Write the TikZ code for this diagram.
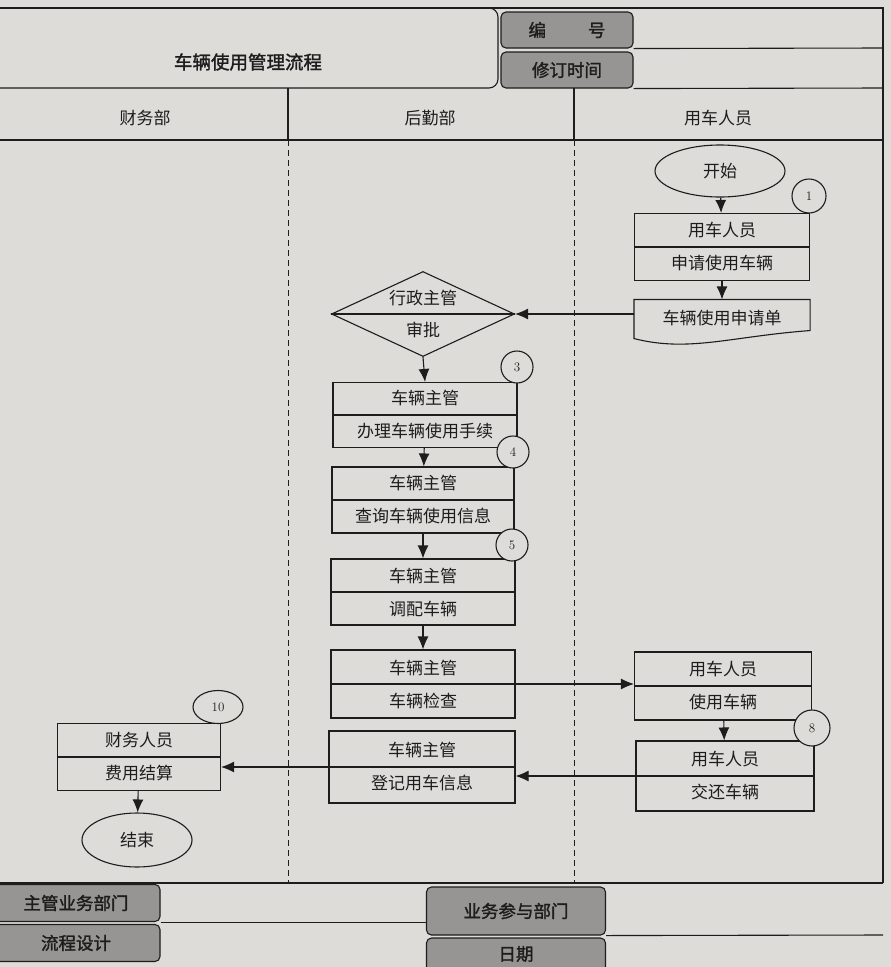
\documentclass[tikz,border=0pt]{standalone}
\usepackage{fontspec}
\newfontfamily\cjk{Noto Sans CJK SC}
\newfontfamily\cjkb[FakeBold=1.6]{Noto Sans CJK SC}
\usetikzlibrary{shapes.geometric,arrows.meta}
\definecolor{paper}{RGB}{222,220,217}
\definecolor{tabgray}{RGB}{150,149,147}
\definecolor{ink}{RGB}{30,28,28}
\tikzset{
  box/.style={draw=ink,line width=1.1pt,minimum width=#1,minimum height=67pt,
    inner sep=0pt,align=center,font=\cjk\fontsize{17}{33}\selectfont},
  tab/.style={draw=ink,line width=1.1pt,fill=tabgray,rounded corners=5pt,
    minimum width=#1,inner sep=0pt,font=\cjkb\fontsize{17.5}{20}\selectfont},
  num/.style={draw=ink,fill=paper,line width=1.1pt,inner sep=0pt,
    font=\fontsize{13}{15}\selectfont},
  flow/.style={draw=ink,line width=1.1pt,-{Latex[length=13pt,width=11pt]}},
  lane/.style={draw=ink,line width=1pt,dash pattern=on 6pt off 4pt},
  txt/.style={font=\cjk\fontsize{17}{20}\selectfont}
}
\begin{document}
\begin{tikzpicture}[x=1pt,y=-1pt,line width=1.1pt,draw=ink,text=ink]
\fill[paper] (0,0) rectangle (891,967);
\useasboundingbox (0,0) rectangle (891,967);
\clip (0,0) rectangle (891,967);
% frame and heading
\draw (0,8) -- (883,8) -- (883,883);
\draw[rounded corners=9pt] (-10,88) -- (498,88) -- (498,8) -- (-10,8);
\node[font=\cjkb\fontsize{18.5}{22}\selectfont] (title) at (248,62) {车辆使用管理流程};
\node[tab=132pt,minimum height=36pt] (code) at (567,30) {编\hspace{42pt}号};
\node[tab=132pt,minimum height=36pt] (rev) at (567,70) {修订时间};
\draw (code.south east) -- (883,48);
\draw (rev.south east) -- (883,88);
% lanes
\node[txt] (fin) at (145,118) {财务部};
\node[txt] (log) at (430,118) {后勤部};
\node[txt] (usr) at (718,118) {用车人员};
\draw (288,88) -- (288,140);
\draw (574,88) -- (574,140);
\draw (0,140) -- (883,140);
\foreach \x in {288,574}
  \draw[lane] (\x,140) -- (\x,883);
% user lane
\node[draw=ink,ellipse,minimum width=130pt,minimum height=52pt,txt] (start) at (720,171) {开始};
\node[box=175pt] (apply) at (722,247) {用车人员\\申请使用车辆};
\node[txt,minimum width=175pt,minimum height=36pt] (form) at (722,318) {车辆使用申请单};
\draw (form.south west) -- (form.north west) -- (form.north east)
  -- ([yshift=6pt]form.south east) .. controls +(-80,6) and +(55,14) .. ([yshift=-2pt]form.south west) -- cycle;
\node[box=177pt,minimum height=68pt] (use) at (723,686) {用车人员\\使用车辆};
\node[box=178pt,minimum height=70pt] (return) at (725,776) {用车人员\\交还车辆};
% logistics lane
\node[draw=ink,diamond,aspect=2.15,minimum width=183pt,minimum height=85pt,inner sep=0pt,
  align=center,font=\cjk\fontsize{17}{32}\selectfont] (check) at (423,314) {行政主管\\审批};
\node[box=184pt,minimum height=65pt] (handle) at (425,415) {车辆主管\\办理车辆使用手续};
\node[box=182pt,minimum height=66pt] (query) at (423,500) {车辆主管\\查询车辆使用信息};
\node[box=184pt,minimum height=66pt] (assign) at (423,592) {车辆主管\\调配车辆};
\node[box=184pt,minimum height=68pt] (inspect) at (423,684) {车辆主管\\车辆检查};
\node[box=186pt,minimum height=72pt] (register) at (422,767) {车辆主管\\登记用车信息};
% finance lane
\node[box=163pt] (settle) at (139,757) {财务人员\\费用结算};
\node[draw=ink,ellipse,minimum width=110pt,minimum height=54pt,txt] (end) at (137,840) {结束};
\foreach \n in {apply,handle,query,assign,inspect,register,use,return,settle,check}
  \draw (\n.west) -- (\n.east);
% step numbers
\node[num,circle,minimum size=34pt] (n1) at (809,196) {1};
\node[num,circle,minimum size=32pt] (n3) at (517,367) {3};
\node[num,circle,minimum size=32pt] (n4) at (513,452) {4};
\node[num,circle,minimum size=32pt] (n5) at (512,545) {5};
\node[num,circle,minimum size=36pt] (n8) at (812,728) {8};
\node[num,ellipse,minimum width=50pt,minimum height=33pt] (n10) at (218,707) {10};
% flow
\draw[flow] (start) -- (apply);
\draw[flow] (apply) -- (form);
\draw[flow] (form.west |- check.east) -- (check.east);
\draw[flow] (check.south) -- (handle.north);
\draw[flow] (handle) -- (query);
\draw[flow] (query) -- (assign);
\draw[flow] (assign) -- (inspect);
\draw[flow] (inspect.east) -- (inspect.east -| use.west);
\draw[flow] (use) -- (return);
\draw[flow] (return.west) -- (return.west -| register.east);
\draw[flow] (register.west) -- (register.west -| settle.east);
\draw[flow] (settle) -- (end);
% footer
\draw (0,883) -- (883,883);
\node[tab=168pt,minimum height=37pt] (owner) at (76,903) {主管业务部门};
\node[tab=168pt,minimum height=37pt] (design) at (76,943) {流程设计};
\node[tab=179pt,minimum height=48pt] (party) at (516,911) {业务参与部门};
\node[tab=179pt,minimum height=48pt] (date) at (516,962) {};
\node[font=\cjkb\fontsize{17.5}{20}\selectfont] (datetext) at (516,954) {日期};
\draw (owner.south east) -- (party.west |- owner.south east);
\draw (party.south east) -- (883,935);
\end{tikzpicture}
\end{document}
